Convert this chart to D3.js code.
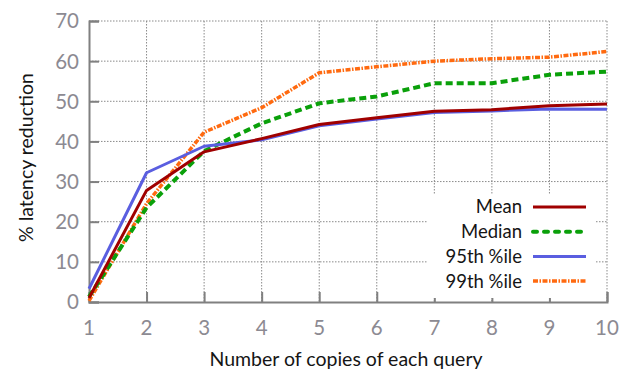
<!DOCTYPE html>
<html>
<head>
<meta charset="utf-8">
<script src="https://cdn.jsdelivr.net/npm/d3@7"></script>
<style>
  body { margin: 0; background: #fff; }
  svg { display: block; font-family: Lato, "Open Sans", sans-serif; }
</style>
</head>
<body>
<div id="chart"></div>
<script>
// copies of each query
var copies = [1, 2, 3, 4, 5, 6, 7, 8, 9, 10];
var yTicks = [0, 10, 20, 30, 40, 50, 60, 70];

// % latency reduction per series
var meanVals   = [1.0, 27.8, 37.4, 40.7, 44.2, 45.9, 47.5, 47.9, 48.9, 49.3];
var medianVals = [1.3, 23.5, 37.6, 44.5, 49.5, 51.2, 54.5, 54.5, 56.6, 57.4];
var p95Vals    = [3.3, 32.2, 38.8, 40.4, 43.9, 45.6, 47.2, 47.6, 48.1, 48.0];
var p99Vals    = [0.3, 24.5, 42.3, 48.4, 57.1, 58.6, 60.0, 60.6, 61.0, 62.4];

var seriesNames = ['Mean', 'Median', '95th %ile', '99th %ile'];

var W = 629, H = 373;
var margin = { top: 21, right: 22, bottom: 71, left: 89 },
	width = W - margin.left - margin.right,
	height = H - margin.top - margin.bottom;

var svg = d3.select('#chart').append('svg')
	.attr('width', W)
	.attr('height', H);

var g = svg.append('g')
	.attr('transform', 'translate(' + margin.left + ',' + margin.top + ')');

var x = d3.scaleLinear().domain([1, 10]).range([0, width]);
var y = d3.scaleLinear().domain([0, 70]).range([height, 0]);

// dotted grid
g.append('g').selectAll('line').data(yTicks.slice(1)).enter().append('line')
	.attr('x1', 0).attr('x2', width)
	.attr('y1', function(d) { return y(d); }).attr('y2', function(d) { return y(d); })
	.attr('stroke', '#8a8a8a').attr('stroke-width', 1).attr('stroke-dasharray', '1.5,1.5');
g.append('g').selectAll('line').data(copies.slice(1)).enter().append('line')
	.attr('y1', 0).attr('y2', height)
	.attr('x1', function(d) { return x(d); }).attr('x2', function(d) { return x(d); })
	.attr('stroke', '#8a8a8a').attr('stroke-width', 1).attr('stroke-dasharray', '1.5,1.5');

// axes with inward ticks
var yAxis = g.append('g').call(d3.axisRight(y).tickValues(yTicks).tickSize(10).tickFormat(''));
var xAxis = g.append('g').attr('transform', 'translate(0,' + height + ')')
	.call(d3.axisTop(x).tickValues(copies).tickSize(10).tickFormat(''));
[yAxis, xAxis].forEach(function(a) {
	a.select('.domain').attr('stroke', '#808080').attr('stroke-width', 2);
	a.selectAll('.tick line').attr('stroke', '#808080').attr('stroke-width', 2);
});

// tick labels
g.append('g').selectAll('text').data(yTicks).enter().append('text')
	.attr('x', -10).attr('y', function(d) { return y(d); })
	.attr('dy', '0.36em').attr('text-anchor', 'end')
	.attr('font-size', 20.5).attr('fill', '#8c8a92')
	.text(function(d) { return d; });
g.append('g').selectAll('text').data(copies).enter().append('text')
	.attr('x', function(d) { return x(d); }).attr('y', height + 33)
	.attr('text-anchor', 'middle')
	.attr('font-size', 20.5).attr('fill', '#8c8a92')
	.text(function(d) { return d; });

// axis titles
svg.append('text').attr('x', margin.left + width / 2 - 2).attr('y', 366)
	.attr('text-anchor', 'middle').attr('font-size', 19.5).attr('fill', '#151515')
	.text('Number of copies of each query');
svg.append('text').attr('transform', 'translate(33,' + (margin.top + height / 2 - 4) + ') rotate(-90)')
	.attr('text-anchor', 'middle').attr('font-size', 19.5).attr('fill', '#151515')
	.text('% latency reduction');

var styles = [
	{ data: meanVals,   color: '#a00000', width: 3,   dash: null },
	{ data: medianVals, color: '#0aa00a', width: 4,   dash: '7,4' },
	{ data: p95Vals,    color: '#5a5ee0', width: 3,   dash: null },
	{ data: p99Vals,    color: '#ff6a10', width: 3.5, dash: '5,1.5,1.5,1.5' }
];

var line = d3.line()
	.x(function(d, i) { return x(copies[i]); })
	.y(function(d) { return y(d); });

// draw in back-to-front order similar to the original
[3, 1, 2, 0].forEach(function(k) {
	var s = styles[k];
	g.append('path').datum(s.data)
		.attr('fill', 'none')
		.attr('stroke', s.color)
		.attr('stroke-width', s.width)
		.attr('stroke-linejoin', 'round')
		.attr('stroke-dasharray', s.dash)
		.attr('d', line);
});

// legend
var leg = svg.append('g');
leg.append('rect').attr('x', 428).attr('y', 195).attr('width', 167).attr('height', 103).attr('fill', '#fff');
seriesNames.forEach(function(name, i) {
	var yy = 207 + i * 24.7;
	var s = styles[i];
	leg.append('text').attr('x', 522).attr('y', yy).attr('dy', '0.35em')
		.attr('text-anchor', 'end').attr('font-size', 18.5).attr('fill', '#151515')
		.text(name);
	leg.append('line').attr('x1', 533).attr('x2', 586).attr('y1', yy).attr('y2', yy)
		.attr('stroke', s.color).attr('stroke-width', s.width)
		.attr('stroke-linecap', i == 1 ? 'round' : 'butt')
		.attr('stroke-dasharray', i == 1 ? '4,7' : s.dash);
});
</script>
</body>
</html>
